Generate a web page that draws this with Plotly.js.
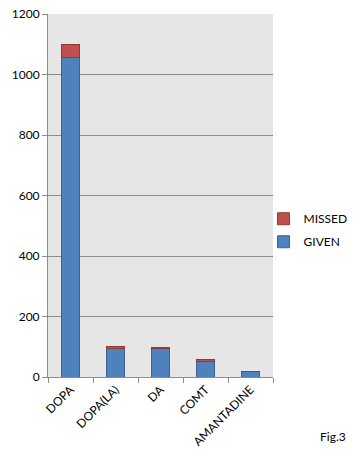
<!DOCTYPE html>
<html>
<head>
<meta charset="utf-8">
<script src="https://cdn.plot.ly/plotly-3.0.1.min.js"></script>
<style>html,body{margin:0;padding:0;background:#fff;}#chart{width:360px;height:460px;}</style>
</head>
<body>
<div id="chart"></div>
<script>
const categories = ["DOPA", "DOPA(LA)", "DA", "COMT", "AMANTADINE"];
const given = [1057, 93, 93, 50, 18];
const missed = [42, 9, 5, 9, 1];
const yTicks = [0, 200, 400, 600, 800, 1000, 1200];

const FONT = "Lato, 'Open Sans', sans-serif";

const traces = [
  {
    type: "bar", name: "GIVEN", x: categories, y: given,
    legendrank: 2, legendgroup: "g", width: 0.42,
    marker: {color: "#4f81bd", line: {color: "#3a6393", width: 1}}
  },
  {
    type: "bar", name: "MISSED", x: categories, y: missed,
    legendrank: 1, legendgroup: "m", width: 0.42,
    marker: {color: "#c0504d", line: {color: "#8e3a38", width: 1}}
  }
];

const layout = {
  width: 360, height: 460,
  margin: {l: 48, r: 87, t: 14, b: 83, autoexpand: false},
  paper_bgcolor: "#ffffff",
  plot_bgcolor: "#e6e6e6",
  barmode: "stack",
  font: {family: FONT, size: 12, color: "#000"},
  showlegend: true,
  legend: {
    xref: "container", yref: "container",
    x: 0.732, y: 0.556, xanchor: "left", yanchor: "top",
    traceorder: "grouped", tracegroupgap: 4,
    font: {family: FONT, size: 12, color: "#000"},
    bgcolor: "rgba(0,0,0,0)", itemwidth: 30
  },
  xaxis: {
    type: "category", tickangle: -45,
    showline: true, linecolor: "#8c8c8c", linewidth: 1,
    ticks: "outside", tickson: "boundaries", ticklen: 5, tickcolor: "#8c8c8c",
    showgrid: false, tickfont: {family: FONT, size: 12},
    automargin: false, fixedrange: true
  },
  yaxis: {
    range: [0, 1200], tickvals: yTicks, ticktext: yTicks.map(String),
    showline: true, linecolor: "#8c8c8c", linewidth: 1,
    ticks: "outside", ticklen: 5, tickcolor: "#8c8c8c",
    showgrid: true, gridcolor: "#8c8c8c", gridwidth: 1,
    zeroline: false, tickfont: {family: FONT, size: 12},
    automargin: false, fixedrange: true
  },
  annotations: [{
    text: "Fig.3", xref: "paper", yref: "paper",
    x: 1.267, y: -0.165, xanchor: "center", yanchor: "middle",
    showarrow: false, font: {family: FONT, size: 12, color: "#000"}
  }]
};

Plotly.newPlot("chart", traces, layout, {displayModeBar: false, staticPlot: true});
</script>
</body>
</html>
